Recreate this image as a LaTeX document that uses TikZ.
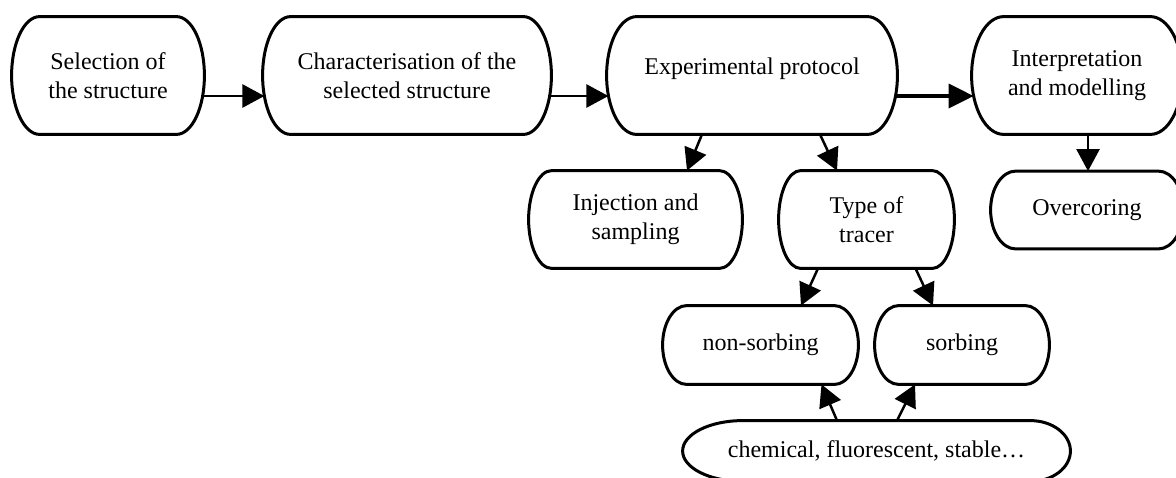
\documentclass[tikz,border=0pt]{standalone}
\usepackage{fontspec}
\setmainfont{Liberation Serif}
\usetikzlibrary{arrows.meta,calc}

% Outline of a box with half-ellipse ends
% #1 = node name, #2 = horizontal radius of the left end, #3 = of the right end
\newcommand\pillbox[3]{%
  \draw[boxline] let \p1=(#1.north west), \p2=(#1.south east), \n1={(\y1-\y2)/2} in
    (\x1+#2,\y1) -- (\x2-#3,\y1)
    arc[start angle=90,end angle=-90,x radius=#3,y radius=\n1]
    -- (\x1+#2,\y2)
    arc[start angle=270,end angle=90,x radius=#2,y radius=\n1] -- cycle;}

\tikzset{
  boxtext/.style={rectangle, inner sep=0pt, align=center,
    font=\fontsize{12}{14.5}\selectfont},
  boxline/.style={line width=1.5pt, black},
  flow/.style={line width=1.25pt, -{Triangle[length=11pt,width=11.5pt]}},
  mainflow/.style={line width=1.8pt, -{Triangle[length=12.5pt,width=12pt]}},
}

\begin{document}
\begin{tikzpicture}[x=0.5pt, y=-0.5pt]
  \fill[white] (0,0) rectangle (1176,477);
  \useasboundingbox (0,0) rectangle (1176,477);

  % top row
  \node[boxtext, minimum width=96pt,  minimum height=58.5pt] (sel) at (108,75.5) {Selection of\\the structure};
  \node[boxtext, minimum width=144pt, minimum height=58.5pt] (chr) at (407,75.5) {Characterisation of the\\selected structure};
  \node[boxtext, minimum width=145pt, minimum height=58.5pt, text height=5pt, text depth=6pt] (exp) at (752,75.5) {Experimental protocol};
  \node[boxtext, minimum width=105pt, minimum height=58.5pt] (int) at (1077,75.5) {Interpretation\\and modelling};

  % second row
  \node[boxtext, minimum width=106.5pt, minimum height=48.5pt] (inj) at (635.5,219.5) {Injection and\\sampling};
  \node[boxtext, minimum width=87.5pt,  minimum height=48.5pt] (typ) at (866.5,219.5) {Type of\\tracer};
  \node[boxtext, minimum width=96pt,    minimum height=38.5pt] (ovc) at (1087,210) {Overcoring};

  % tracer kinds
  \node[boxtext, minimum width=97.5pt, minimum height=39pt] (nsb) at (760.5,345) {non-sorbing};
  \node[boxtext, minimum width=87pt,   minimum height=39pt] (srb) at (962,345) {sorbing};
  \node[boxtext, minimum width=193.5pt, minimum height=30pt] (chm) at (876.5,451) {chemical, fluorescent, stable…};

  % outlines
  \pillbox{sel}{14pt}{14pt}
  \pillbox{chr}{14pt}{14pt}
  \pillbox{exp}{15pt}{15pt}
  \pillbox{int}{16pt}{16pt}
  \pillbox{inj}{11.5pt}{11.5pt}
  \pillbox{typ}{11pt}{11pt}
  \pillbox{ovc}{12.5pt}{12.5pt}
  \pillbox{nsb}{12pt}{12pt}
  \pillbox{srb}{12pt}{12pt}
  \pillbox{chm}{30pt}{20pt}

  % connectors
  \draw[flow] ($(sel.east)+(-1.8,20.5)$) -- ($(chr.west)+(1.8,20.5)$);
  \draw[flow] ($(chr.east)+(-1.8,20.5)$) -- ($(exp.west)+(1.8,20.5)$);
  \draw[mainflow] ($(exp.east)+(-1.8,20.5)$) -- ($(int.west)+(2,20.5)$);
  \draw[flow] ($(exp.south)+(-50,0)$) -- ($(inj.north)+(51.5,0)$);
  \draw[flow] ($(exp.south)+(68,0)$) -- ($(typ.north)+(-29.5,0)$);
  \draw[flow] ($(int.south)+(11,0)$) -- ($(ovc.north)+(1,0)$);
  \draw[flow] ($(typ.south)+(-48.5,0)$) -- ($(nsb.north)+(40.5,0)$);
  \draw[flow] ($(typ.south)+(49,0)$) -- ($(srb.north)+(-29,0)$);
  \draw[flow] ($(chm.north)+(-39.5,0)$) -- ($(nsb.south)+(61,0)$);
  \draw[flow] ($(chm.north)+(20.5,0)$) -- ($(srb.south)+(-47,0)$);
\end{tikzpicture}
\end{document}
